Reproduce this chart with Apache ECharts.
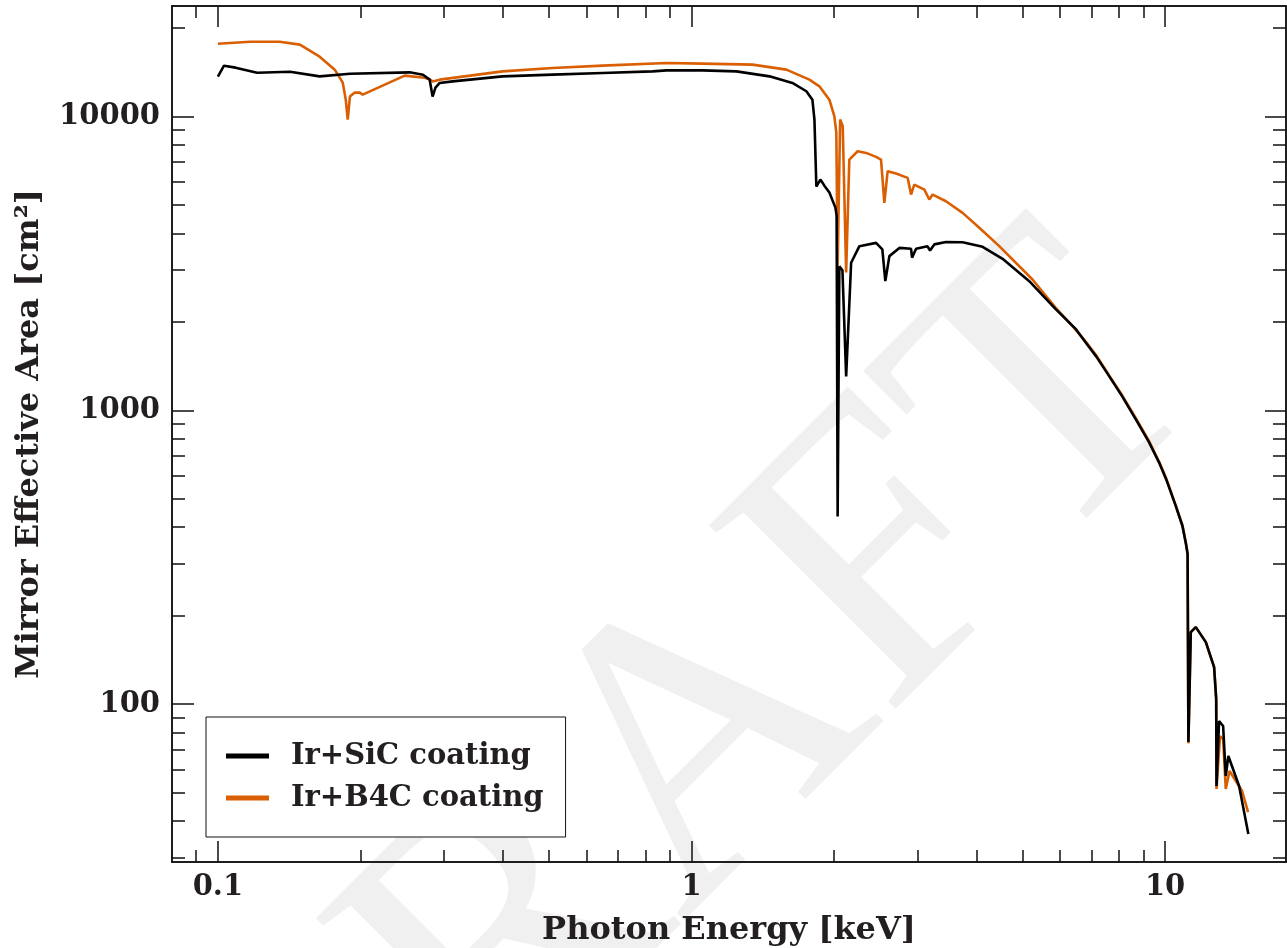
<!DOCTYPE html>
<html>
<head>
<meta charset="utf-8">
<title>Mirror effective area</title>
<script src="https://cdn.jsdelivr.net/npm/echarts@6/dist/echarts.min.js"></script>
<style>
  html, body { margin: 0; padding: 0; background: #fff; }
  #main { width: 1287px; height: 948px; }
</style>
</head>
<body>
<div id="main"></div>
<script>
// tick positions (keV on x, cm^2 on y)
const xMajor = [0.1, 1, 10];
const xMinor = [0.09, 0.2, 0.3, 0.4, 0.5, 0.6, 0.7, 0.8, 0.9, 2, 3, 4, 5, 6, 7, 8, 9];
const yMajor = [100, 1000, 10000];
const yMinor = [30, 40, 50, 60, 70, 80, 90, 200, 300, 400, 500, 600, 700, 800, 900,
  2000, 3000, 4000, 5000, 6000, 7000, 8000, 9000, 20000];

const seriesNames = ['Ir+SiC coating', 'Ir+B4C coating'];

// [energy keV, effective area cm^2]
const sicCurve = [
  [0.100, 13680], [0.103, 14910], [0.109, 14680], [0.121, 14110], [0.142, 14220],
  [0.164, 13710], [0.190, 14000], [0.254, 14150], [0.271, 13890], [0.280, 13360],
  [0.284, 11700], [0.288, 12550], [0.294, 13020], [0.313, 13180], [0.399, 13710],
  [0.509, 13900], [0.649, 14080], [0.827, 14260], [0.886, 14370], [1.055, 14370],
  [1.244, 14260], [1.461, 13710], [1.633, 13020], [1.748, 12200], [1.800, 11420],
  [1.818, 9770], [1.835, 5780], [1.871, 6106], [1.908, 5821], [1.955, 5515],
  [2.013, 4900], [2.025, 4600], [2.035, 435], [2.052, 3090], [2.083, 3000],
  [2.121, 1305], [2.173, 3180], [2.262, 3622], [2.453, 3716], [2.529, 3532],
  [2.566, 2754], [2.617, 3350], [2.747, 3573], [2.908, 3548], [2.922, 3311],
  [2.980, 3548], [3.148, 3622], [3.189, 3500], [3.256, 3673], [3.446, 3740],
  [3.736, 3737], [4.118, 3604], [4.538, 3281], [5.166, 2753], [5.881, 2206],
  [6.490, 1886], [6.803, 1699], [7.152, 1527], [7.618, 1308], [8.117, 1116],
  [8.673, 932], [9.252, 778], [9.712, 664], [10.05, 583], [10.53, 473],
  [10.88, 404], [11.07, 350], [11.156, 324], [11.20, 74.3], [11.33, 175.8],
  [11.61, 182.8], [12.19, 162.5], [12.69, 133.6], [12.82, 104], [12.84, 52.6],
  [13.00, 87.5], [13.26, 84.2], [13.43, 56.9], [13.60, 66.6], [14.33, 52.6],
  [14.99, 36.1]
];

const b4cCurve = [
  [0.100, 17700], [0.117, 17990], [0.135, 17990], [0.149, 17580], [0.164, 16000],
  [0.1765, 14450], [0.1835, 13050], [0.1862, 11420], [0.188, 9770], [0.190, 11700],
  [0.1945, 12070], [0.1993, 12070], [0.2022, 11880], [0.248, 13790], [0.273, 13570],
  [0.280, 13400], [0.284, 13180], [0.294, 13360], [0.399, 14260], [0.509, 14640],
  [0.649, 14910], [0.886, 15230], [1.055, 15150], [1.345, 15030], [1.586, 14450],
  [1.774, 13360], [1.862, 12680], [1.955, 11420], [2.003, 10020], [2.022, 8822],
  [2.035, 3090], [2.060, 9770], [2.086, 9270], [2.121, 2947], [2.154, 7140],
  [2.243, 7620], [2.337, 7524], [2.453, 7292], [2.513, 7140], [2.554, 5088],
  [2.595, 6517], [2.704, 6400], [2.860, 6188], [2.908, 5429], [2.954, 5870],
  [3.102, 5645], [3.178, 5220], [3.230, 5429], [3.446, 5150], [3.736, 4703],
  [4.052, 4182], [4.465, 3622], [5.248, 2790], [5.881, 2230], [6.376, 1935],
  [6.803, 1710], [7.152, 1540], [7.618, 1315], [8.117, 1125], [8.673, 940],
  [9.252, 785], [9.712, 668], [10.05, 588], [10.53, 475], [10.88, 406],
  [11.07, 352], [11.156, 325], [11.20, 73.5], [11.33, 175.8], [11.61, 182.8],
  [12.19, 162.5], [12.69, 133.6], [12.82, 104], [12.84, 51.4], [13.06, 77.8],
  [13.26, 76], [13.43, 51.4], [13.68, 59.2], [14.54, 50.6], [14.97, 42.9]
];

const xRange = [0.08, 18];
const yRange = [29, 23800];

const FONT = 'DejaVu Serif';
const ink = '#111';
const textInk = '#231f20';

function logAxis(range, position, ticks, len, extra) {
  return Object.assign({
    type: 'log',
    logBase: 10,
    position: position,
    min: range[0],
    max: range[1],
    axisLine: {show: true, onZero: false, lineStyle: {color: ink, width: 1.5}},
    axisTick: {show: true, inside: true, length: len, customValues: ticks, lineStyle: {color: ink, width: 1.5}},
    axisLabel: {show: false},
    splitLine: {show: false},
    minorTick: {show: false},
    minorSplitLine: {show: false}
  }, extra || {});
}

const labelStyle = {
  show: true,
  fontFamily: FONT,
  fontWeight: 'bold',
  fontSize: 29,
  color: textInk,
  formatter: v => String(v)
};

const nameStyle = {fontFamily: FONT, fontWeight: 'bold', fontSize: 32, color: textInk};

const chart = echarts.init(document.getElementById('main'), null, {renderer: 'canvas'});
chart.setOption({
  animation: false,
  backgroundColor: '#fff',
  grid: {left: 172, right: 1, top: 6, bottom: 86, containLabel: false, outerBoundsMode: 'none'},
  graphic: [{
    type: 'text',
    x: 678,
    y: 778,
    rotation: Math.PI / 4,
    z: -1,
    silent: true,
    style: {
      text: 'DRAFT',
      font: 'normal 400px "Liberation Serif"',
      fill: '#f0f0f0',
      align: 'center',
      verticalAlign: 'middle',
      textAlign: 'center',
      textVerticalAlign: 'middle'
    }
  }],
  legend: {
    data: seriesNames,
    orient: 'vertical',
    left: 206,
    top: 717,
    backgroundColor: '#fff',
    borderColor: ink,
    borderWidth: 1,
    padding: [24, 22, 24, 20],
    itemWidth: 43,
    itemHeight: 5,
    itemGap: 12,
    icon: 'rect',
    textStyle: {
      fontFamily: FONT, fontWeight: 'bold', fontSize: 29, color: textInk,
      lineHeight: 30, padding: [0, 0, 0, 17]
    }
  },
  xAxis: [
    logAxis(xRange, 'bottom', xMajor, 21, {
      axisLabel: Object.assign({customValues: xMajor, margin: 11}, labelStyle),
      name: 'Photon Energy [keV]',
      nameLocation: 'middle',
      nameGap: 53,
      nameTextStyle: nameStyle
    }),
    logAxis(xRange, 'bottom', xMinor, 12),
    logAxis(xRange, 'top', xMajor, 21),
    logAxis(xRange, 'top', xMinor, 12)
  ],
  yAxis: [
    logAxis(yRange, 'left', yMajor, 22, {
      axisLabel: Object.assign({customValues: yMajor, margin: 12}, labelStyle),
      name: 'Mirror Effective Area [cm²]',
      nameLocation: 'middle',
      nameGap: 126,
      nameTextStyle: nameStyle
    }),
    logAxis(yRange, 'left', yMinor, 13),
    logAxis(yRange, 'right', yMajor, 21),
    logAxis(yRange, 'right', yMinor, 13)
  ],
  series: [
    {
      name: seriesNames[1],
      type: 'line',
      xAxisIndex: 0,
      yAxisIndex: 0,
      data: b4cCurve,
      showSymbol: false,
      color: '#d95f02',
      lineStyle: {width: 2.6, color: '#d95f02'}
    },
    {
      name: seriesNames[0],
      type: 'line',
      xAxisIndex: 0,
      yAxisIndex: 0,
      data: sicCurve,
      showSymbol: false,
      color: '#000',
      lineStyle: {width: 2.6, color: '#000'}
    }
  ]
});
</script>
</body>
</html>
